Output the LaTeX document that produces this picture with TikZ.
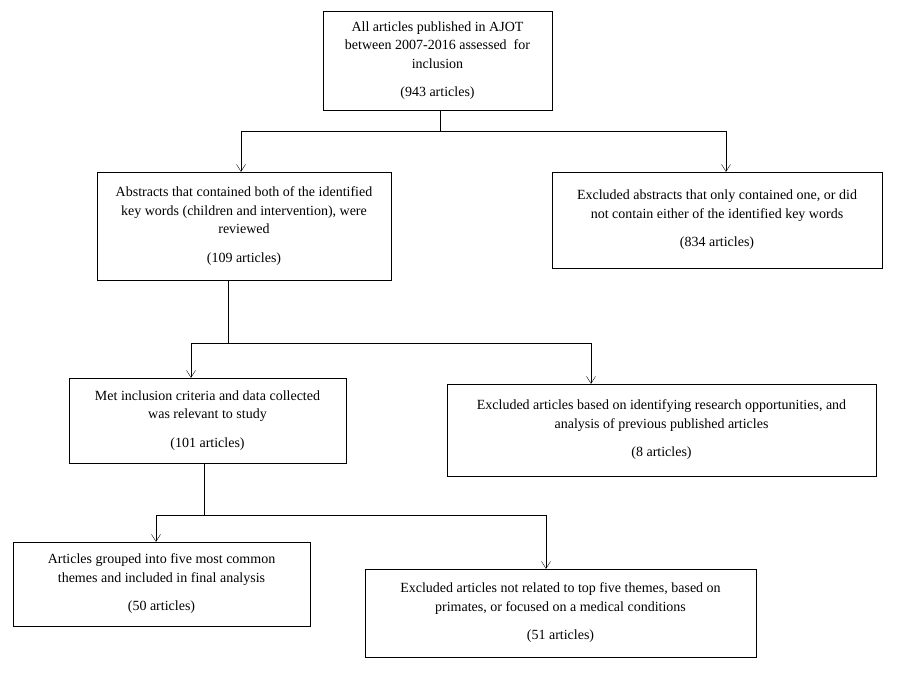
\documentclass[tikz,border=0pt]{standalone}
\usepackage{fontspec}
\setmainfont{Liberation Serif}
\usetikzlibrary{arrows.meta}
\begin{document}
\begin{tikzpicture}[x=1pt,y=-1pt,
 box/.style={draw,thin,align=center,inner sep=0pt,font=\fontsize{14}{18.5}\selectfont},
 arr/.style={-{Straight Barb[length=7pt,width=9pt]},thin},
 ln/.style={thin}]
\useasboundingbox (0,0) rectangle (901,673);
\node[box,minimum width=229pt,minimum height=99pt] (a) at (437.5,60.5) {All articles published in AJOT\\between 2007-2016 assessed\ \ for\\inclusion\\[10pt](943 articles)};
\node[box,minimum width=294pt,minimum height=108pt] (b) at (244,226) {Abstracts that contained both of the identified\\key words (children and intervention), were\\reviewed\\[10pt](109 articles)};
\node[box,minimum width=330pt,minimum height=96pt] (c) at (717,220) {Excluded abstracts that only contained one, or did\\not contain either of the identified key words\\[10pt](834 articles)};
\node[box,minimum width=277pt,minimum height=85pt] (d) at (207.5,420.5) {Met inclusion criteria and data collected\\was relevant to study\\[10pt](101 articles)};
\node[box,minimum width=429pt,minimum height=92pt] (e) at (661.5,430) {Excluded articles based on identifying research opportunities, and\\analysis of previous published articles\\[10pt](8 articles)};
\node[box,minimum width=297pt,minimum height=84pt] (f) at (161.5,584) {Articles grouped into five most common\\themes and included in final analysis\\[10pt](50 articles)};
\node[box,minimum width=391pt,minimum height=88pt] (g) at (560.5,613) {Excluded articles not related to top five themes, based on\\primates, or focused on a medical conditions\\[10pt](51 articles)};
\coordinate (j1) at (440,131);
\coordinate (l1) at (241,131);
\coordinate (r1) at (726,131);
\draw[ln] (a.south -| j1) -- (j1);
\draw[ln] (l1) -- (r1);
\draw[arr] (l1) -- (l1 |- b.north);
\draw[arr] (r1) -- (r1 |- c.north);
\coordinate (j2) at (228,343);
\coordinate (l2) at (191,343);
\coordinate (r2) at (591,343);
\draw[ln] (b.south -| j2) -- (j2);
\draw[ln] (l2) -- (r2);
\draw[arr] (l2) -- (l2 |- d.north);
\draw[arr] (r2) -- (r2 |- e.north);
\coordinate (j3) at (204,515);
\coordinate (l3) at (156,515);
\coordinate (r3) at (546,515);
\draw[ln] (d.south -| j3) -- (j3);
\draw[ln] (l3) -- (r3);
\draw[arr] (l3) -- (l3 |- f.north);
\draw[arr] (r3) -- (r3 |- g.north);
\end{tikzpicture}
\end{document}
